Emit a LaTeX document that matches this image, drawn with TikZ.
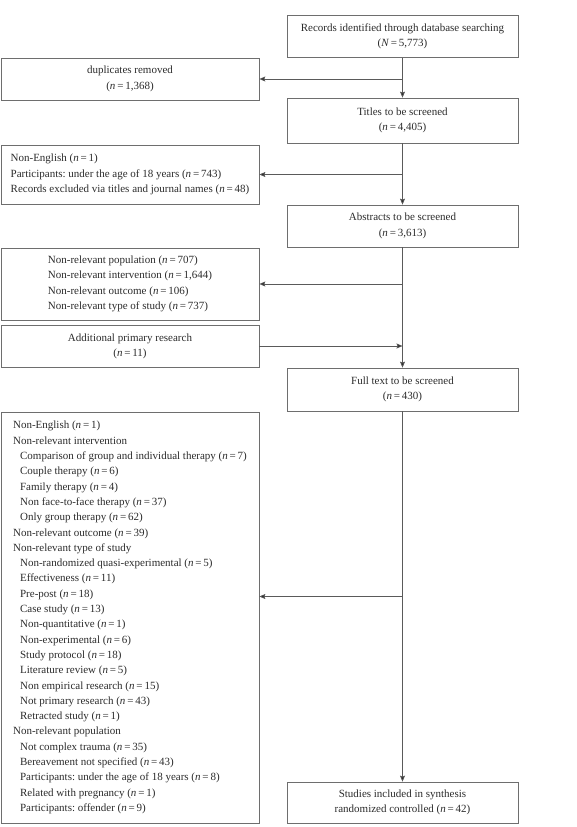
\documentclass[tikz,border=0pt]{standalone}
\usepackage{fontspec}
\setmainfont{Liberation Serif}
\usetikzlibrary{arrows.meta}
\definecolor{boxgray}{HTML}{6E6E6E}
\definecolor{linegray}{HTML}{5A5A5A}
\definecolor{inkgray}{HTML}{2B2B2B}
\newcommand{\cnt}[1]{(\textit{n}\,=\,#1)}
\newcommand{\sub}{\hspace*{7pt}}
\frenchspacing
\tikzset{
  flowbox/.style={draw=boxgray, line width=0.7pt, text=inkgray, align=center,
    minimum width=231pt, minimum height=42pt, inner sep=0pt},
  sidebox/.style={flowbox, minimum width=258pt},
  listbox/.style={sidebox, align=left},
  flow/.style={draw=linegray, line width=0.7pt,
    -{Stealth[length=6pt, width=5pt, inset=1pt, fill=inkgray]}},
}

\begin{document}
\begin{tikzpicture}[x=1pt, y=-1pt,
    every node/.style={font=\fontsize{11}{15.3}\selectfont}]
  \useasboundingbox (0,0) rectangle (576,827);
  % main column
  \node[flowbox] (rec) at (402.5,36.5) {Records identified through database searching\\ (\textit{N}\,=\,5,773)};
  \node[flowbox, minimum height=45pt] (tit) at (402.5,120.5) {Titles to be screened\\ \cnt{4,405}};
  \node[flowbox] (abs) at (402.5,226) {Abstracts to be screened\\ \cnt{3,613}};
  \node[flowbox, minimum height=43pt] (full) at (402.5,389.5) {Full text to be screened\\ \cnt{430}};
  \node[flowbox, minimum height=41pt] (incl) at (402.5,802.5) {Studies included in synthesis\\ randomized controlled \cnt{42}};
  % side boxes
  \node[sidebox] (dup) at (130,79) {duplicates removed\\ \cnt{1,368}};
  \node[listbox, minimum height=59pt] (exA) at (130,174.5) {Non-English \cnt{1}\\
    Participants: under the age of 18 years \cnt{743}\\
    Records excluded via titles and journal names \cnt{48}};
  \node[listbox, minimum height=72pt] (exB) at (130,284) {Non-relevant population \cnt{707}\\
    Non-relevant intervention \cnt{1,644}\\
    Non-relevant outcome \cnt{106}\\
    Non-relevant type of study \cnt{737}};
  \node[sidebox] (add) at (130,346) {Additional primary research\\ \cnt{11}};
  \node[listbox, minimum height=411pt] (exC) at (130,617.5) {Non-English \cnt{1}\\
    Non-relevant intervention\\
    \sub Comparison of group and individual therapy \cnt{7}\\
    \sub Couple therapy \cnt{6}\\
    \sub Family therapy \cnt{4}\\
    \sub Non face-to-face therapy \cnt{37}\\
    \sub Only group therapy \cnt{62}\\
    Non-relevant outcome \cnt{39}\\
    Non-relevant type of study\\
    \sub Non-randomized quasi-experimental \cnt{5}\\
    \sub Effectiveness \cnt{11}\\
    \sub Pre-post \cnt{18}\\
    \sub Case study \cnt{13}\\
    \sub Non-quantitative \cnt{1}\\
    \sub Non-experimental \cnt{6}\\
    \sub Study protocol \cnt{18}\\
    \sub Literature review \cnt{5}\\
    \sub Non empirical research \cnt{15}\\
    \sub Not primary research \cnt{43}\\
    \sub Retracted study \cnt{1}\\
    Non-relevant population\\
    \sub Not complex trauma \cnt{35}\\
    \sub Bereavement not specified \cnt{43}\\
    \sub Participants: under the age of 18 years \cnt{8}\\
    \sub Related with pregnancy \cnt{1}\\
    \sub Participants: offender \cnt{9}};
  % junctions on the main line
  \coordinate (j1) at (rec.south |- dup.east);
  \coordinate (j2) at (tit.south |- exA.east);
  \coordinate (j3) at (abs.south |- exB.east);
  \coordinate (j4) at (abs.south |- add.east);
  \coordinate (j5) at (full.south |- 0,596.5);
  % connectors
  \draw[flow] (rec) -- (tit);
  \draw[flow] (j1) -- (dup.east);
  \draw[flow] (tit) -- (abs);
  \draw[flow] (j2) -- (exA.east);
  \draw[flow] (abs) -- (full);
  \draw[flow] (j3) -- (exB.east);
  \draw[flow] (add.east) -- (j4);
  \draw[flow] (full) -- (incl);
  \draw[flow] (j5) -- (j5 -| exC.east);
\end{tikzpicture}
\end{document}
